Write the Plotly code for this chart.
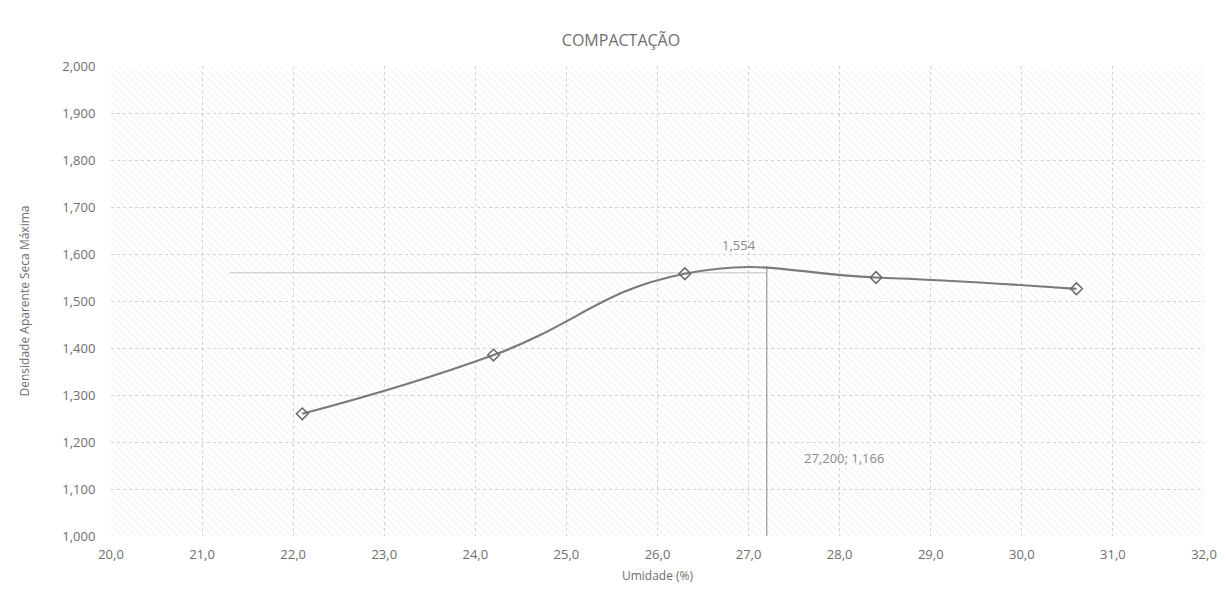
import plotly.graph_objects as go

# ensaio de compactacao
umidade = [22.1, 24.2, 26.3, 28.4, 30.6]
densidade = [1.260, 1.385, 1.558, 1.550, 1.526]

# umidade otima / densidade maxima (linhas de leitura)
x_otima = [27.2, 27.2]
y_otima = [1.0, 1.574]
x_hor = [21.3, 27.2]
y_hor = [1.560, 1.560]

x_range = [20, 32]
y_range = [1.0, 2.0]

cinza = '#6e6e6e'
fonte = 'Open Sans'

fig = go.Figure()

# fundo hachurado (transparente para deixar a grade visivel)
fig.add_trace(go.Scatter(
    x=[x_range[0], x_range[1], x_range[1], x_range[0], x_range[0]],
    y=[y_range[0], y_range[0], y_range[1], y_range[1], y_range[0]],
    mode='none', fill='toself', fillcolor='rgba(0,0,0,0)',
    fillpattern=dict(shape='\\', fgcolor='#cfcfcf', bgcolor='rgba(0,0,0,0)', size=5, solidity=0.15),
    hoverinfo='skip', showlegend=False
))

fig.add_trace(go.Scatter(x=x_hor, y=y_hor, mode='lines',
                         line=dict(color='#c4c4c4', width=1), showlegend=False))
fig.add_trace(go.Scatter(x=x_otima, y=y_otima, mode='lines',
                         line=dict(color='#999999', width=1.2), showlegend=False))

fig.add_trace(go.Scatter(
    x=umidade, y=densidade, mode='lines+markers',
    line=dict(color='#7a7a7a', width=2.2, shape='spline', smoothing=1.3),
    marker=dict(symbol='diamond-open', size=9, color='#6a6a6a', line=dict(width=1.5)),
    showlegend=False
))

fig.add_annotation(x=26.9, y=1.62, text='1,554', showarrow=False,
                   font=dict(family=fonte, size=13, color='#8a8a8a'))
fig.add_annotation(x=28.05, y=1.165, text='27,200; 1,166', showarrow=False,
                   font=dict(family=fonte, size=13, color='#8a8a8a'))

fig.update_layout(
    width=1226, height=590,
    margin=dict(l=103, r=30, t=58, b=62),
    paper_bgcolor='white', plot_bgcolor='white',
    separators=',.',
    font=dict(family=fonte, color=cinza),
    title=dict(text='COMPACTAÇÃO', x=0.5, xanchor='center', y=0.955,
               font=dict(family=fonte, size=16, color=cinza)),
    xaxis=dict(range=x_range, dtick=1, tickformat='.1f', showgrid=True,
               gridcolor='#d2d2d2', griddash='dot', zeroline=False,
               ticks='outside', ticklen=6, tickcolor='white',
               tickfont=dict(size=13, color=cinza),
               title=dict(text='Umidade (%)', font=dict(size=12, color=cinza), standoff=10)),
    yaxis=dict(range=y_range, dtick=0.1, tickformat='.3f', showgrid=True,
               gridcolor='#d2d2d2', griddash='dot', zeroline=False,
               ticks='outside', ticklen=12, tickcolor='white',
               tickfont=dict(size=13, color=cinza),
               title=dict(text='Densidade Aparente Seca Máxima', font=dict(size=12, color=cinza),
                          standoff=30)),
)

fig.write_html('out.html')
